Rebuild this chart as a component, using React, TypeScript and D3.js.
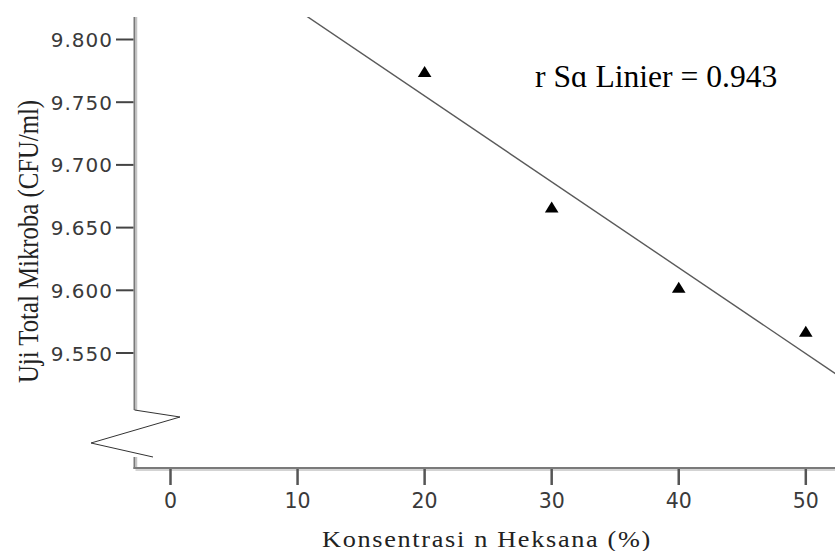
import React from "react";
import * as d3 from "d3";

const concentrations = [20, 30, 40, 50];
const microbeTotals = [9.774, 9.666, 9.602, 9.567];
const xTicks = [0, 10, 20, 30, 40, 50];
const yTicks = [9.55, 9.6, 9.65, 9.7, 9.75, 9.8];
const rSqLabel = "r Sɑ Linier = 0.943";
const xTitle = "Konsentrasi n Heksana (%)";
const yTitle = "Uji Total Mikroba (CFU/ml)";

const W = 835;
const H = 551;
const axisX = 134.5;
const axisY = 468;
const plotTop = 17;

export default function App() {
  const x = d3.scaleLinear().domain([0, 50]).range([170.5, 805.8]);
  const y = d3.scaleLinear().domain([9.55, 9.8]).range([353, 39.5]);

  const mx = d3.mean(concentrations) as number;
  const my = d3.mean(microbeTotals) as number;
  let sxy = 0;
  let sxx = 0;
  concentrations.forEach((c, i) => {
    sxy += (c - mx) * (microbeTotals[i] - my);
    sxx += (c - mx) * (c - mx);
  });
  const slope = sxy / sxx;
  const intercept = my - slope * mx;
  const v0 = x.invert(axisX);
  const v1 = x.invert(W + 5);
  const fitLine = d3.line<number>()
    .x((v) => x(v))
    .y((v) => y(intercept + slope * v))([v0, v1]) as string;

  const tri = (cx: number, cy: number) =>
    `M${cx},${cy - 6}L${cx + 6.8},${cy + 5}L${cx - 6.8},${cy + 5}Z`;

  const breakTop = 410;
  const breakBottom = 457;

  return (
    <svg
      width={W}
      height={H}
      style={{ position: "absolute", left: 0, top: 0, background: "#fff" }}
    >
      <defs>
        <clipPath id="plotClip">
          <rect x={axisX + 1} y={plotTop} width={W - axisX} height={axisY - plotTop - 2} />
        </clipPath>
      </defs>

      {/* regression line */}
      <path d={fitLine} stroke="#5a5a5a" strokeWidth={1.4} fill="none" clipPath="url(#plotClip)" />

      {/* y axis with break */}
      <line x1={axisX} x2={axisX} y1={plotTop} y2={breakTop} stroke="#7a7a7a" strokeWidth={2} />
      <line x1={axisX + 2} x2={axisX + 2} y1={plotTop} y2={breakTop} stroke="#c4c4c4" strokeWidth={1.5} />
      <line x1={axisX} x2={axisX} y1={breakBottom} y2={axisY + 1} stroke="#7a7a7a" strokeWidth={2} />
      <line x1={axisX + 2} x2={axisX + 2} y1={breakBottom} y2={axisY} stroke="#c4c4c4" strokeWidth={1.5} />
      <polyline
        points={`${axisX},${breakTop} 180,417 91,443 153,${breakBottom}`}
        fill="none"
        stroke="#333"
        strokeWidth={1}
      />

      {/* x axis */}
      <line x1={axisX - 1} x2={W} y1={axisY} y2={axisY} stroke="#7a7a7a" strokeWidth={2} />
      <line x1={axisX + 1} x2={W} y1={axisY + 2} y2={axisY + 2} stroke="#c4c4c4" strokeWidth={1.5} />

      {/* y ticks */}
      {yTicks.map((t) => (
        <g key={"y" + t}>
          <line x1={116} x2={axisX - 1} y1={y(t)} y2={y(t)} stroke="#444" strokeWidth={2} />
          <text
            x={113}
            y={y(t) + 7.5}
            textAnchor="end"
            fontFamily="DejaVu Sans"
            fontSize={20}
            letterSpacing={1}
            fill="#3a3a3a"
          >
            {d3.format(".3f")(t)}
          </text>
        </g>
      ))}

      {/* x ticks */}
      {xTicks.map((t) => (
        <g key={"x" + t}>
          <line x1={x(t)} x2={x(t)} y1={axisY + 1} y2={485} stroke="#555" strokeWidth={2.5} />
          <text
            x={x(t)}
            y={507.5}
            textAnchor="middle"
            fontFamily="DejaVu Sans"
            fontSize={20.5}
            fill="#3a3a3a"
          >
            {t}
          </text>
        </g>
      ))}

      {/* points */}
      {concentrations.map((c, i) => (
        <path key={"p" + i} d={tri(x(c), y(microbeTotals[i]))} fill="#000" />
      ))}

      {/* annotation */}
      <text x={535} y={87} fontFamily="Liberation Serif" fontSize={31.6} fill="#000">
        {rSqLabel}
      </text>

      {/* titles */}
      <text
        x={322}
        y={547}
        fontFamily="Liberation Serif"
        fontSize={23.5}
        letterSpacing={1.5}
        textLength={330}
        lengthAdjust="spacingAndGlyphs"
        fill="#222"
      >
        {xTitle}
      </text>
      <text
        transform={`translate(38,${241.5}) rotate(-90)`}
        textAnchor="middle"
        fontFamily="Liberation Serif"
        fontSize={29.5}
        textLength={283}
        lengthAdjust="spacingAndGlyphs"
        fill="#222"
      >
        {yTitle}
      </text>
    </svg>
  );
}
